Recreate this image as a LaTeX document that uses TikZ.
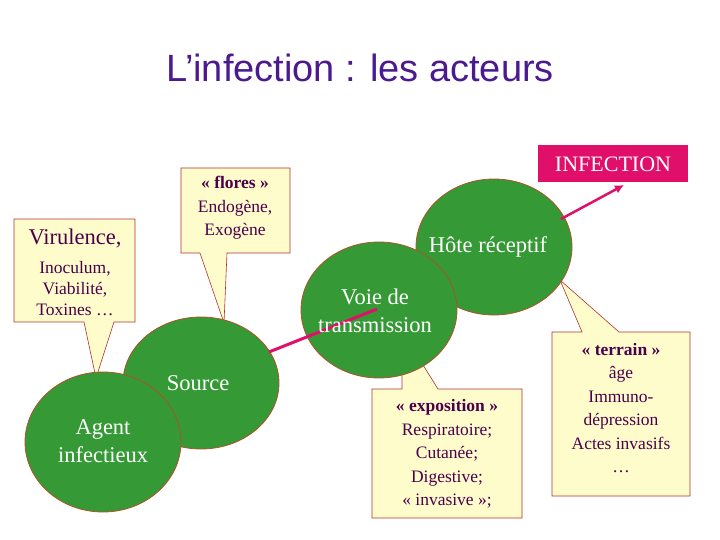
\documentclass[tikz,border=0pt]{standalone}
\usepackage{fontspec}
\setmainfont{Liberation Serif}
\newfontfamily\titlefont{Liberation Sans}
\usetikzlibrary{arrows.meta}
\begin{document}
\begin{tikzpicture}[x=1pt,y=-1pt,
  bub/.style={draw=black!20!brown!80!red,line width=0.8pt},
  callout/.style={draw=red!60!black!80,line width=0.6pt,fill=yellow!20},
  ctext/.style={text=violet!60!black,font=\fontsize{17.5}{21}\selectfont,align=center,inner sep=0pt},
  wtext/.style={text=white,font=\fontsize{22.5}{28}\selectfont,align=center,inner sep=0pt},
  pinkline/.style={line width=3pt}]
\definecolor{ttl}{HTML}{4A1A8E}
\definecolor{gr}{HTML}{359A35}
\definecolor{pk}{HTML}{E0106A}
\useasboundingbox (0,0) rectangle (720,540);
\node[text=ttl,font=\titlefont\fontsize{38}{40}\selectfont] (title) at (360,68) {L’infection : les acteurs};
% callouts
\draw[callout] (14,219)--(135,219)--(135,322)--(114,322)--(96,378)--(84,322)--(14,322)--cycle;
\draw[callout] (181,168)--(290,168)--(290,253)--(227,253)--(224,323)--(200,253)--(181,253)--cycle;
\draw[callout] (372,389)--(402,389)--(402,370)--(423,365)--(438,389)--(522,389)--(522,518)--(372,518)--cycle;
\draw[callout] (560,332)--(582,332)--(560,280)--(619,332)--(690,332)--(690,496)--(552,496)--(552,332)--cycle;
% circles
\draw[bub,fill=gr] (201,383) ellipse (78 and 66);
\draw[bub,fill=gr] (103,442) ellipse (78 and 70);
\draw[bub,fill=gr] (494,247) ellipse (78 and 68);
\draw[bub,fill=gr] (379,310) ellipse (78 and 68);
\coordinate (s1) at (269,352);
\coordinate (v1) at (377,309);
\draw[pinkline,draw=pk] (s1)--(v1);
% infection
\node[fill=pk,text=white,font=\fontsize{22}{24}\selectfont,minimum width=150,minimum height=37,inner sep=0pt] (inf) at (613,164) {INFECTION};
\coordinate (h1) at (561,219);
\coordinate (i1) at (624,185);
\draw[draw=pk,line width=2.5pt,-{Latex[length=9pt,width=9pt]}] (h1)--(i1);
% circle text
\node[wtext] (agent) at (103,441) {Agent\\infectieux};
\node[wtext] (source) at (198,383) {Source};
\node[wtext] (voie) at (375,311) {Voie de\\transmission};
\node[wtext] (hote) at (488,247) {Hôte réceptif};
% callout text
\node[ctext,font=\fontsize{22.5}{24}\selectfont] (vir) at (75,238) {Virulence,};
\node[ctext] (vir2) at (75,289) {Inoculum,\\Viabilité,\\Toxines …};
\node[ctext,font=\fontsize{17.5}{23.5}\selectfont] (flores) at (235,208) {\textbf{« flores »}\\Endogène,\\Exogène};
\node[ctext,font=\fontsize{17.5}{23.5}\selectfont] (expo) at (447,454) {\textbf{« exposition »}\\Respiratoire;\\Cutanée;\\Digestive;\\« invasive »;};
\node[ctext,font=\fontsize{17.5}{23.5}\selectfont] (terr) at (621,408) {\textbf{« terrain »}\\âge\\Immuno-\\dépression\\Actes invasifs\\…};
\end{tikzpicture}
\end{document}
